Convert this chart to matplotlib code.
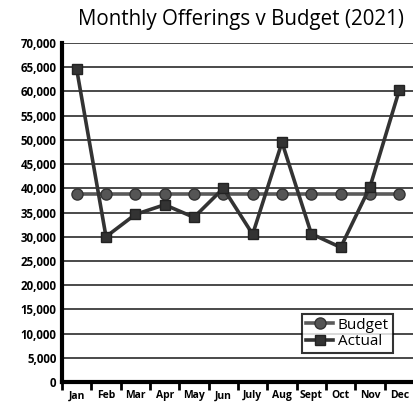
import matplotlib
matplotlib.use("Agg")
import matplotlib.pyplot as plt
import numpy as np

months = ["Jan", "Feb", "Mar", "Apr", "May", "Jun", "July", "Aug", "Sept", "Oct", "Nov", "Dec"]
budget = [38900] * 12
actual = [64600, 30000, 34600, 36600, 34000, 40000, 30500, 49500, 30600, 27800, 40300, 60300]
yticks = list(range(0, 70001, 5000))

fig = plt.figure(figsize=(4.14, 4.04), dpi=100)
ax = fig.add_axes([62/414, 22/404, 352/414, 339/404])

x = np.arange(len(months))
ax.set_xlim(-0.5, 11.5)
ax.set_ylim(0, 70000)

for v in yticks[1:]:
    ax.axhline(v, color="#3a3a3a", lw=1.3, zorder=1)

ax.plot(x, budget, color="#5a5a5a", lw=2.6, marker="o", ms=8, mfc="#555555", mec="#333333", mew=1, zorder=3, label="Budget")
ax.plot(x, actual, color="#333333", lw=2.6, marker="s", ms=7, mfc="#333333", mec="#222222", mew=1, zorder=4, label="Actual")

ax.set_yticks(yticks)
ax.set_yticklabels([f"{v:,}" for v in yticks], fontfamily="Open Sans", fontweight="bold", fontsize=8.3)
ax.tick_params(axis="y", length=0, pad=4)

ax.set_xticks(np.arange(-0.5, 12, 1))
ax.set_xticklabels([])
ax.set_xticks(x, minor=True)
ax.set_xticklabels(months, minor=True, fontfamily="Open Sans", fontweight="bold", fontsize=7.5)
ax.tick_params(axis="x", which="major", length=6, width=2, color="black", direction="out")
ax.tick_params(axis="x", which="minor", length=0, pad=6)

for s in ["top", "right"]:
    ax.spines[s].set_visible(False)
ax.spines["left"].set_linewidth(3)
ax.spines["bottom"].set_linewidth(3)
ax.spines["left"].set_zorder(5)
ax.spines["bottom"].set_zorder(5)

leg = ax.legend(loc="lower right", bbox_to_anchor=(0.94, 0.085), prop={"family": "Open Sans", "size": 11},
                frameon=True, fancybox=False, edgecolor="black", handlelength=1.8, handletextpad=0.3,
                borderpad=0.25, labelspacing=0.1, borderaxespad=0)
leg.get_frame().set_linewidth(1.5)
leg.set_zorder(6)

fig.text(241/414, 1 - 20/404, "Monthly Offerings v Budget (2021)", ha="center", va="center",
         fontfamily="Open Sans", fontsize=14.8)

fig.savefig("out.png", dpi=100)
